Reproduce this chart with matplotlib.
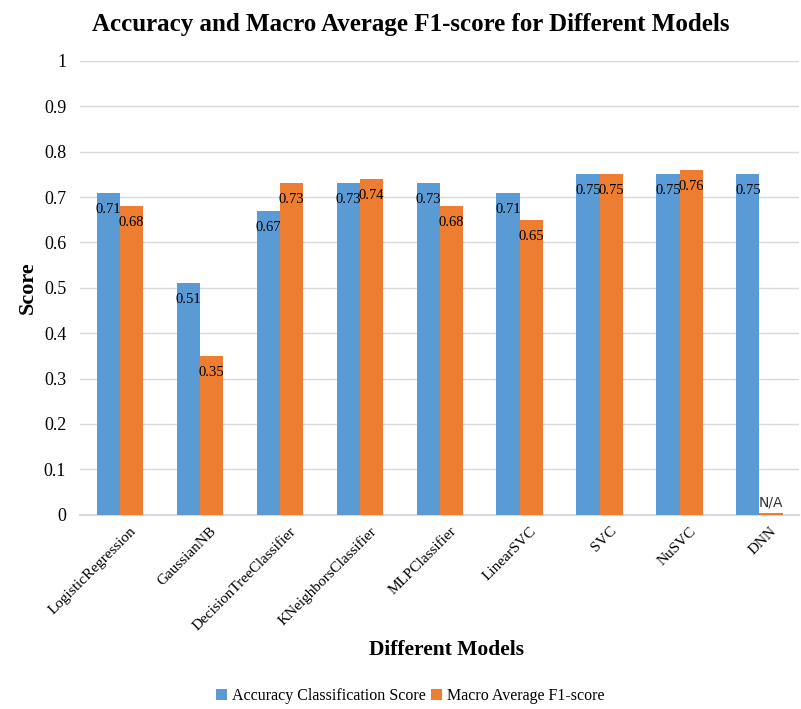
import matplotlib.pyplot as plt
import matplotlib.transforms as mtransforms
import numpy as np
from matplotlib.ticker import FuncFormatter

# data
models = ["LogisticRegression", "GaussianNB", "DecisionTreeClassifier", "KNeighborsClassifier",
          "MLPClassifier", "LinearSVC", "SVC", "NuSVC", "DNN"]
accuracy = [0.71, 0.51, 0.67, 0.73, 0.73, 0.71, 0.75, 0.75, 0.75]
macro_f1 = [0.68, 0.35, 0.73, 0.74, 0.68, 0.65, 0.75, 0.76, 0.003]
f1_labels = ["0.68", "0.35", "0.73", "0.74", "0.68", "0.65", "0.75", "0.76", "N/A"]

blue = '#5b9bd5'
orange = '#ed7d31'
serif = 'Liberation Serif'

fig = plt.figure(figsize=(8.01, 7.09), dpi=100)
ax = fig.add_axes([0.1, 0.274, 0.898, 0.64])

x = np.arange(len(models))
w = 0.29
b1 = ax.bar(x - w/2, accuracy, w, color=blue, zorder=3)
b2 = ax.bar(x + w/2, macro_f1, w, color=orange, zorder=3)

for r, v in zip(b1, accuracy):
    ax.text(r.get_x() + r.get_width()/2, v - 0.022, "%.2f" % v, ha='center', va='top',
            fontsize=10.5, family=serif, zorder=4)
for r, v, lab in zip(b2, macro_f1, f1_labels):
    if lab == "N/A":
        ax.text(r.get_x() + r.get_width()/2, 0.012, lab, ha='center', va='bottom',
                fontsize=10, family='DejaVu Sans', color='#333333', zorder=4)
    else:
        ax.text(r.get_x() + r.get_width()/2, v - 0.022, lab, ha='center', va='top',
                fontsize=10.5, family=serif, zorder=4)

ax.set_xlim(-0.5, len(models) - 0.5)
ax.set_ylim(0, 1)
ax.set_yticks(np.arange(0, 1.01, 0.1))
ax.yaxis.set_major_formatter(FuncFormatter(lambda v, p: ("%.1f" % v).rstrip('0').rstrip('.') if v else "0"))
ax.grid(axis='y', color='#d9d9d9', linewidth=1, zorder=0)
for s in ['top', 'right', 'left']:
    ax.spines[s].set_visible(False)
ax.spines['bottom'].set_color('#d9d9d9')
ax.spines['bottom'].set_linewidth(1.5)
ax.tick_params(axis='y', length=0, pad=10)
ax.tick_params(axis='x', length=0, pad=7)
ax.set_xticks(x)
ax.set_xticklabels(models, rotation=45, ha='right', rotation_mode='anchor',
                   fontsize=11, family=serif)
shift = mtransforms.ScaledTranslation(10/100, 0, fig.dpi_scale_trans)
for t in ax.get_xticklabels():
    t.set_transform(t.get_transform() + shift)
for t in ax.get_yticklabels():
    t.set_family(serif)
    t.set_fontsize(13)

fig.text(0.513, 0.966, "Accuracy and Macro Average F1-score for Different Models", fontsize=18,
         fontweight='bold', family=serif, ha='center', va='center')
ax.set_ylabel("Score", fontsize=16, fontweight='bold', family=serif, labelpad=4)
fig.text(0.557, 0.083, "Different Models", fontsize=15.5, fontweight='bold', family=serif,
         ha='center', va='center')

fig.legend([b1, b2], ["Accuracy Classification Score", "Macro Average F1-score"], loc='center',
           bbox_to_anchor=(0.512, 0.018), ncol=2, frameon=False, handlelength=0.7, handleheight=0.7,
           handletextpad=0.3, columnspacing=0.3, prop={'family': serif, 'size': 11.5})

fig.savefig("out.png", dpi=100)
